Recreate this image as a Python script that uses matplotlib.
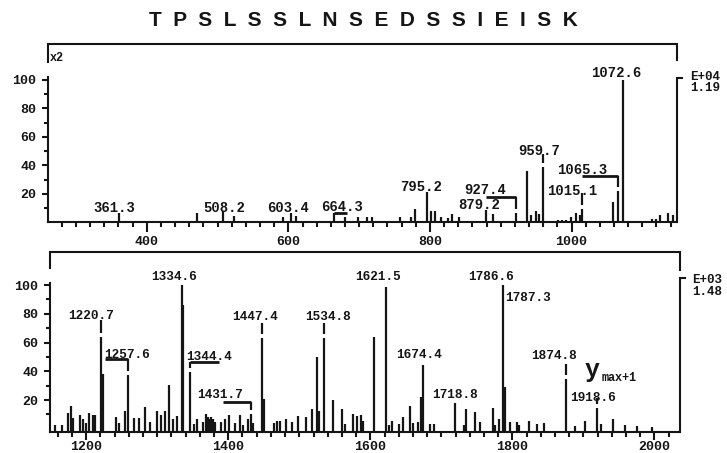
import numpy as np
import matplotlib.pyplot as plt

plt.rcParams['font.family'] = 'Liberation Mono'
plt.rcParams['font.weight'] = 'bold'

sequence = "TPSLSSLNSEDSSIEISK"

# upper trace, m/z 260-1149 (intensity shown x2)
top_mz = [361.3, 471.5, 508.2, 523.3, 592.1, 603.4, 610.5, 664.3, 680.1, 698.9,
          711.6, 718.6, 757.8, 773.3, 779.0, 795.2, 801.6, 807.2, 815.3, 826.0,
          831.6, 841.5, 879.2, 889.5, 921.2, 937.6, 942.8, 949.9, 954.5, 959.7,
          980.5, 986.2, 992.2, 999.3, 1006.4, 1012.0, 1015.1, 1058.2, 1065.3, 1072.6,
          1113.3, 1119.3, 1125.0, 1135.9, 1143.8]
top_int = [7, 6.5, 8, 4.8, 3.6, 7, 4.5, 7, 4, 3.6,
           3.6, 4, 3.6, 4, 9.7, 21.6, 7.8, 8, 4, 3,
           6, 3.8, 9, 5.7, 6.5, 36, 5, 8, 5.7, 38.7,
           2, 2, 2, 4, 6.4, 5, 9.5, 14.6, 22, 100,
           2.4, 2.4, 5, 6.4, 5]

# lower trace, m/z 1149-2036
bot_mz = [1155.5, 1165.8, 1174.2, 1178.0, 1182.0, 1190.7, 1195.4, 1200.0, 1203.8, 1209.5,
          1212.0, 1220.7, 1223.0, 1241.5, 1246.2, 1254.2, 1259.0, 1267.3, 1274.4, 1282.4,
          1289.5, 1299.8, 1304.6, 1311.6, 1316.7, 1321.5, 1328.0, 1334.6, 1336.6, 1345.5,
          1351.5, 1355.3, 1364.6, 1368.0, 1371.0, 1373.0, 1375.0, 1377.0, 1379.0, 1381.0,
          1389.2, 1395.2, 1401.3, 1409.4, 1416.4, 1421.1, 1428.1, 1431.9, 1435.2, 1447.4,
          1450.3, 1464.4, 1469.0, 1472.8, 1481.3, 1489.3, 1498.6, 1509.5, 1518.4, 1525.4,
          1527.8, 1534.8, 1547.1, 1559.8, 1564.5, 1576.2, 1581.0, 1586.6, 1590.3, 1604.5,
          1621.5, 1625.6, 1631.2, 1641.0, 1646.7, 1655.2, 1659.9, 1667.8, 1671.2, 1674.4,
          1683.4, 1689.0, 1718.8, 1731.4, 1734.7, 1747.8, 1753.9, 1772.3, 1776.0, 1780.7,
          1786.6, 1789.0, 1796.2, 1806.6, 1809.0, 1824.0, 1834.9, 1845.2, 1874.8, 1887.9,
          1902.0, 1918.6, 1924.2, 1941.5, 1958.5, 1976.0, 1996.0]
bot_int = [2.6, 2.6, 11, 15.8, 7.7, 9.6, 6.6, 3.8, 10.7, 9.6,
           9.6, 63.6, 38, 8, 4.3, 12.3, 37.4, 7.3, 7.3, 15.3,
           4.7, 12.3, 9.3, 12.3, 30.3, 6.6, 8.9, 100, 86, 39.5,
           3, 6.6, 4.7, 10, 8, 7, 8, 6, 7, 5,
           5, 6.6, 9.6, 3.8, 9.6, 2.6, 6.6, 10.2, 3.8, 62.8,
           20.4, 4.2, 5.4, 5.4, 7, 4.7, 8.9, 8, 13.5, 50,
           12.3, 62.8, 20, 13.5, 3, 10.5, 8.9, 9.6, 5.4, 63.8,
           98.8, 2.6, 5.4, 3.5, 8, 15.8, 4.2, 4.7, 22.3, 44.6,
           3, 3, 17.6, 2.6, 13.5, 11.9, 5, 14.7, 2.6, 6.6,
           100, 29.2, 5, 5, 2.6, 5.4, 3, 3.8, 34.6, 2,
           5.4, 14.6, 3, 6.6, 2.6, 2, 1]

top_scale = ["E+04", "1.19"]
bot_scale = ["E+03", "1.48"]

# (label, peak m/z, kind, text x, text y, extra)
top_labels = [
    ("361.3", 361.3, 'plain', 353.8, 7.6, None),
    ("508.2", 508.2, 'plain', 509.2, 7.2, None),
    ("603.4", 603.4, 'plain', 599.6, 7.6, None),
    ("664.3", 664.3, 'bracket', 676.5, 8.4, (682.5, 7.0)),
    ("795.2", 795.2, 'plain', 787.4, 22.3, None),
    ("879.2", 879.2, 'plain', 868.9, 9.5, None),
    ("927.4", 921.2, 'bracket', 877.8, 20.3, (879.4, 18.1)),
    ("959.7", 959.7, 'tick', 953.8, 47.5, 48.0),
    ("1015.1", 1015.1, 'tick', 1000.3, 19.5, 20.5),
    ("1065.3", 1065.3, 'bracket', 1014.4, 34.0, (1015.3, 32.8)),
    ("1072.6", 1072.6, 'plain', 1062.6, 102.3, None),
]
bot_labels = [
    ("1220.7", 1220.7, 'tick', 1206.3, 76.3, 75.7),
    ("1257.6", 1259.0, 'bracket', 1258.0, 49.2, (1226.3, 48.3)),
    ("1334.6", 1334.6, 'plain', 1323.2, 103.5, None),
    ("1344.4", 1345.5, 'bracket', 1372.8, 48.0, (1387.2, 46.6)),
    ("1431.7", 1431.9, 'bracket', 1388.2, 21.2, (1392.9, 18.4)),
    ("1447.4", 1447.4, 'tick', 1438.3, 75.7, 73.4),
    ("1534.8", 1534.8, 'tick', 1539.9, 75.7, 73.4),
    ("1621.5", 1621.5, 'plain', 1610.7, 103.5, None),
    ("1674.4", 1674.4, 'plain', 1668.7, 49.0, None),
    ("1718.8", 1718.8, 'plain', 1719.5, 21.2, None),
    ("1786.6", 1786.6, 'plain', 1770.0, 103.5, None),
    ("1787.3", 1789.0, 'side', 1790.5, 88.8, None),
    ("1874.8", 1874.8, 'tick', 1858.0, 48.3, 45.0),
    ("1918.6", 1918.6, 'tick', 1913.0, 19.5, 21.2),
]

W, H = 727, 453
ink = '#151515'
lw = 1.5
gap = 2.8

fig = plt.figure(figsize=(W / 100, H / 100), dpi=100)
ax1 = fig.add_axes([48 / W, 1 - 222.5 / H, 629 / W, (222.5 - 44) / H])
ax2 = fig.add_axes([50 / W, 1 - 431.5 / H, 630 / W, (431.5 - 252) / H])


def draw_panel(ax, mz, inten, labels, xlim, ylim, spine_top, box_left, box_right,
               bar_top, fs, xtick_len, xpad):
    ax.set_xlim(*xlim)
    ax.set_ylim(*ylim)
    base = ylim[0]
    ax.vlines(mz, base, inten, color=ink, lw=1.6)
    peaks = dict(zip(mz, inten))

    for text, pmz, kind, tx, ty, extra in labels:
        top = peaks[pmz]
        ha = 'center'
        if kind == 'tick':
            ax.vlines(pmz, top + gap, extra, color=ink, lw=1.6)
        elif kind == 'bracket':
            xend, yb = extra
            ax.plot([pmz, xend], [yb, yb], color=ink, lw=2, solid_capstyle='butt')
            if yb > top + gap:
                ax.vlines(pmz, top + gap, yb, color=ink, lw=1.6)
        elif kind == 'side':
            ha = 'left'
        ax.text(tx, ty, text, ha=ha, va='baseline', fontsize=fs, color=ink)

    for s in ['top', 'right']:
        ax.spines[s].set_visible(False)
    ax.spines['left'].set_bounds(base, spine_top)
    for s in ['left', 'bottom']:
        ax.spines[s].set_linewidth(lw)
        ax.spines[s].set_color(ink)

    # frame above the trace and right-hand scale bar
    x0, x1 = xlim
    y1 = ylim[1]
    ax.plot([x0, x0, x1, x1], [box_left, y1, y1, box_right], color=ink, lw=lw,
            clip_on=False, solid_joinstyle='miter')
    dx = (x1 - x0) / 630 * 5
    ax.plot([x1 + dx, x1, x1], [bar_top, bar_top, base], color=ink, lw=lw,
            clip_on=False, solid_joinstyle='miter')

    ax.set_xticks(np.arange(np.ceil(x0 / 200) * 200, x1, 200))
    ax.set_xticks(np.arange(np.ceil(x0 / 20) * 20, x1, 20), minor=True)
    ax.set_yticks([20, 40, 60, 80, 100])
    ax.set_yticks([10, 30, 50, 70, 90], minor=True)
    ax.tick_params(axis='x', which='major', direction='out', length=xtick_len, width=lw,
                   color=ink, labelsize=9.5, pad=xpad)
    ax.tick_params(axis='x', which='minor', direction='out', length=3.8, width=lw, color=ink)
    ax.tick_params(axis='y', which='major', direction='out', length=4.5, width=lw,
                   color=ink, labelsize=9.5, pad=4)
    ax.tick_params(axis='y', which='minor', direction='out', length=2.8, width=lw, color=ink)
    for t in ax.get_xticklabels() + ax.get_yticklabels():
        t.set_fontweight('bold')
        t.set_color(ink)


draw_panel(ax1, top_mz, top_int, top_labels, (260.5, 1149), (0, 125.26),
           102, 112.6, 114, 101.7, 10, 7, 2.5)
draw_panel(ax2, bot_mz, bot_int, bot_labels, (1149, 2036), (-1.9, 122.96),
           101.4, 111.7, 110.3, 104.9, 9.2, 6, 0.8)

ax2.text(1902.0, 35.8, 'y', fontsize=18, ha='left', va='baseline', color=ink)
ax2.text(1925.6, 33.0, 'max+1', fontsize=8.5, ha='left', va='baseline', color=ink)

fig.text(50 / W, 1 - 58 / H, 'x2', fontsize=8.5, va='center', color=ink)
fig.text(690 / W, 1 - 76.7 / H, top_scale[0], fontsize=9, va='center', color=ink)
fig.text(690 / W, 1 - 88.3 / H, top_scale[1], fontsize=9, va='center', color=ink)
fig.text(692 / W, 1 - 280.3 / H, bot_scale[0], fontsize=9, va='center', color=ink)
fig.text(692 / W, 1 - 292 / H, bot_scale[1], fontsize=9, va='center', color=ink)

fig.text(0.5, 1 - 21 / H, '  '.join(sequence), family='Liberation Sans',
         fontweight='bold', fontsize=15, ha='center', va='center', color=ink)

fig.savefig('out.png', dpi=100)
